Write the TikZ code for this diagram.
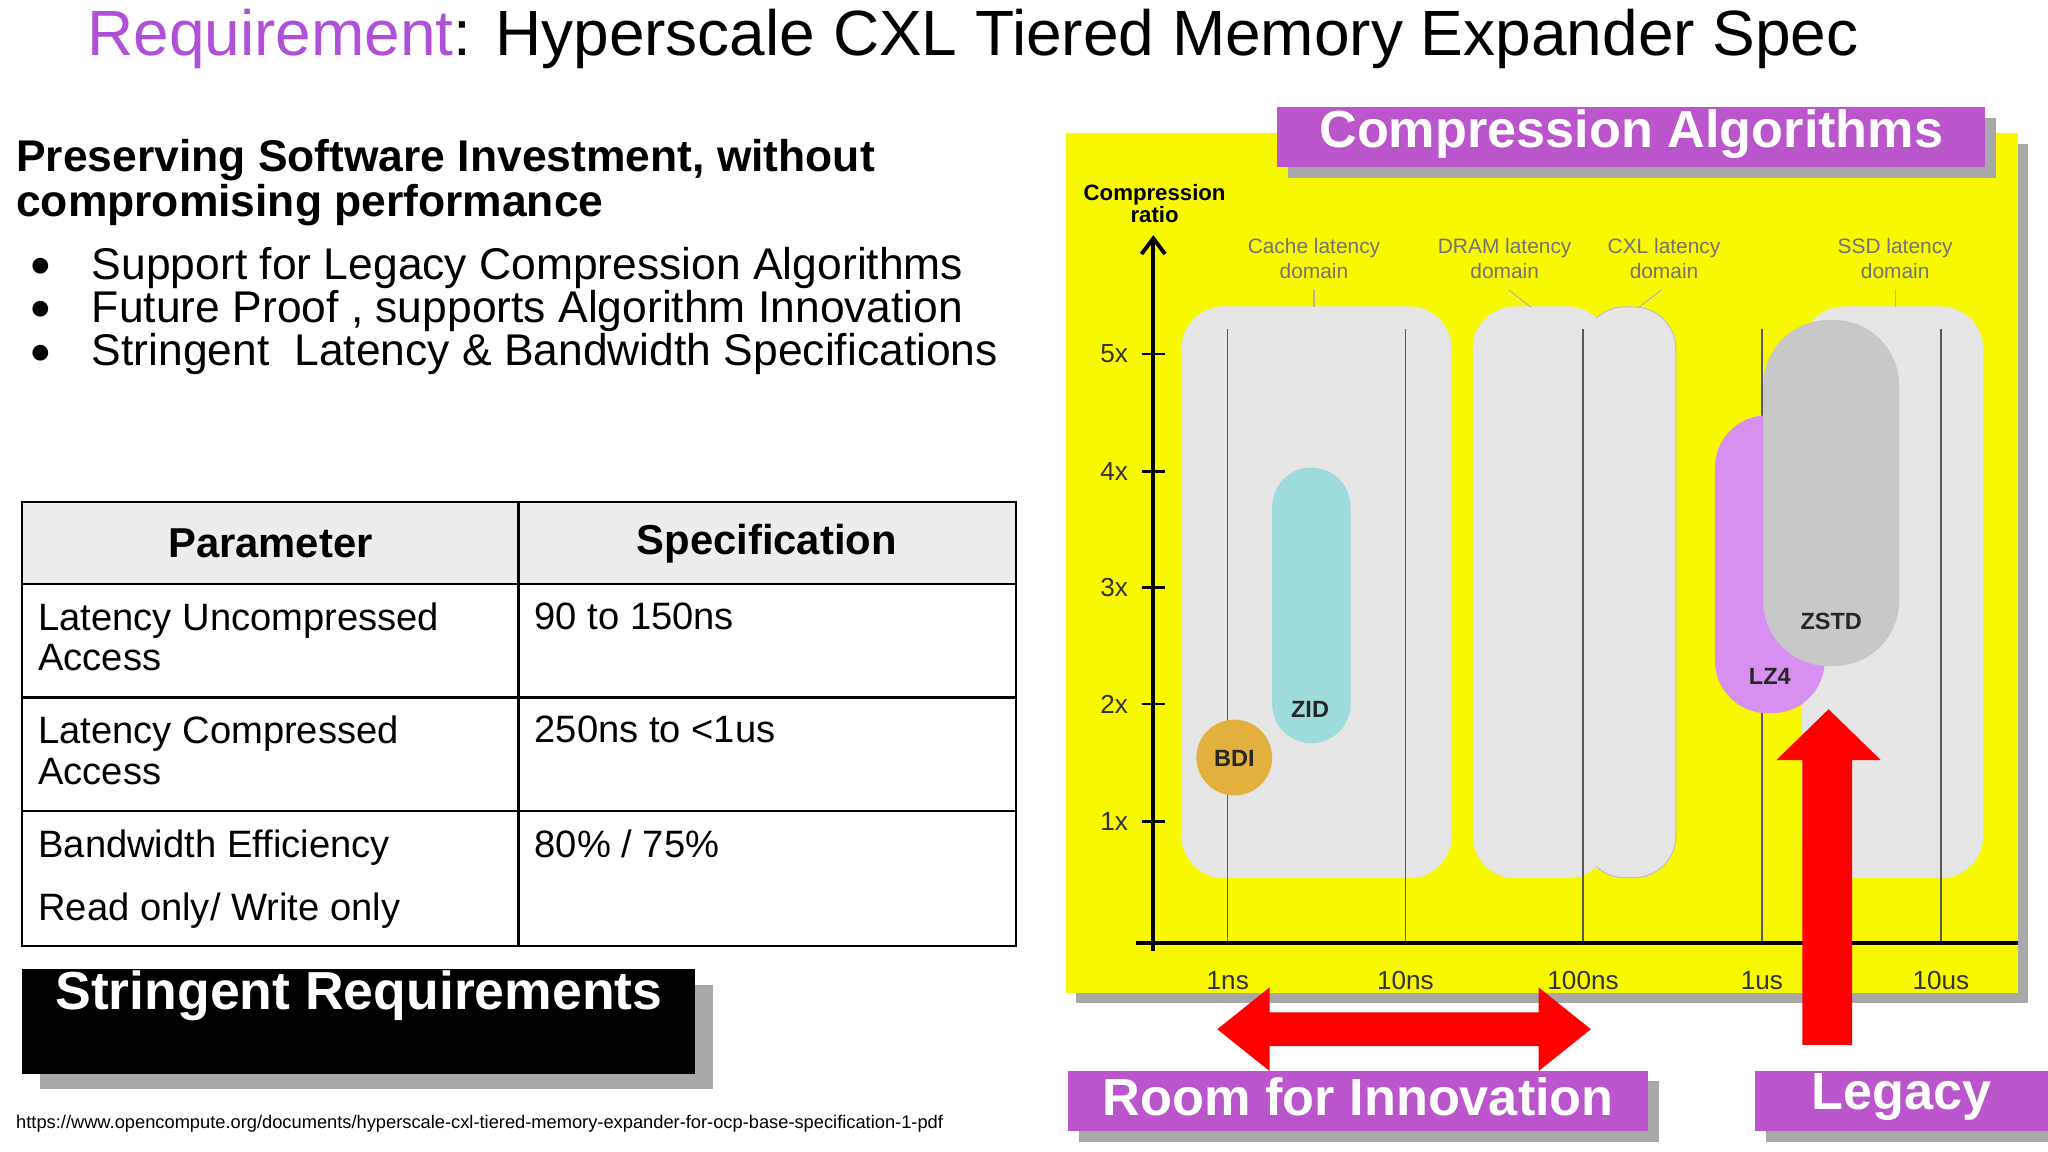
\documentclass[tikz,border=0pt]{standalone}
\usepackage{fontspec}
\setmainfont{Liberation Sans}
\usetikzlibrary{arrows.meta}
\definecolor{purp}{HTML}{BB55CC}
\definecolor{tpurp}{HTML}{B050D8}
\definecolor{ylw}{HTML}{F8F800}
\definecolor{shad}{HTML}{A8A8A8}
\definecolor{dom}{HTML}{E6E6E6}
\definecolor{zidc}{HTML}{9EDCDC}
\definecolor{bdic}{HTML}{E2B03C}
\definecolor{lzc}{HTML}{D890F0}
\definecolor{zsc}{HTML}{C8C8C8}
\newcommand{\fsz}[1]{\fontsize{#1}{1.2\dimexpr #1\relax}\selectfont}
\tikzset{
 lbl/.style={inner sep=0pt},
 purpbox/.style={fill=purp,inner sep=0pt,text=white,font=\fsz{20pt}\bfseries},
 shadowbox/.style={fill=shad},
 domainbox/.style={fill=dom,draw=white!80!gray,rounded corners=16pt},
 grid/.style={draw=gray!70!black,line width=0.5pt},
 tick/.style={font=\fsz{10pt},inner sep=0pt,text=black!80},
 domlbl/.style={font=\fsz{8pt},text=gray!90!black,align=center,inner sep=0pt},
 pilllbl/.style={font=\fsz{9pt}\bfseries,inner sep=0pt,text=black!85},
 cell/.style={font=\fsz{14.6pt},anchor=north west,inner sep=0pt,align=left},
}
\begin{document}
\begin{tikzpicture}[x=0.5pt,y=-0.5pt]
\useasboundingbox[fill=white] (0,0) rectangle (1568,882);
% title
\node[lbl] (title) at (745,30) {\fsz{24.5pt}\textcolor{tpurp}{Requirement}: Hyperscale CXL Tiered Memory Expander Spec};
% heading
\node[lbl,anchor=north west,align=left,font=\fsz{17pt}\bfseries] (head) at (12,106) {Preserving Software Investment, without\\[-3pt]compromising performance};
\foreach \y/\t [count=\i] in {205/Support for Legacy Compression Algorithms,238/{Future Proof , supports Algorithm Innovation},271/{Stringent\ \ Latency \& Bandwidth Specifications}}{
 \node[lbl,font=\fsz{14pt}] (dot\i) at (31,\y) {●};
 \node[lbl,anchor=west,font=\fsz{17pt}] (bul\i) at (70,\y) {\t};
}
% table
\fill[black!7] (17,384) rectangle (778,447);
\draw[line width=0.8pt] (17,384) rectangle (778,724);
\foreach \y in {447,534,621} \draw[line width=0.8pt] (17,\y) -- (778,\y);
\draw[line width=0.8pt] (397,384) -- (397,724);
\node[lbl,font=\fsz{16pt}\bfseries] (h1) at (207,416) {Parameter};
\node[lbl,font=\fsz{16pt}\bfseries] (h2) at (587,416) {Specification};
\node[cell] (c1) at (29,461) {Latency Uncompressed\\[-2pt]Access};
\node[cell] (c2) at (409,461) {90 to 150ns};
\node[cell] (c3) at (29,548) {Latency Compressed\\[-2pt]Access};
\node[cell] (c4) at (409,548) {250ns to <1us};
\node[cell] (c5) at (29,635) {Bandwidth Efficiency};
\node[cell] (c6) at (29,683) {Read only/ Write only};
\node[cell] (c7) at (409,635) {80\% / 75\%};
% stringent box
\fill[shad] (31,754) rectangle (546,834);
\fill[black] (17,742) rectangle (532,822);
\node[lbl,anchor=west,text=white,font=\fsz{20.5pt}\bfseries] (strin) at (42,762) {Stringent Requirements};
\node[lbl,anchor=west,font=\fsz{7pt}] (url) at (12,860) {https://www.opencompute.org/documents/hyperscale-cxl-tiered-memory-expander-for-ocp-base-specification-1-pdf};
% yellow panel
\fill[shad] (824,110) rectangle (1553,768);
\fill[ylw] (816,102) rectangle (1545,760);
% domain boxes
\draw[domainbox] (905,235) rectangle (1111,672);
\draw[domainbox,draw=gray!50] (1212,235) rectangle (1283,672);
\draw[domainbox] (1128,235) rectangle (1232,672);
\draw[domainbox] (1380,235) rectangle (1518,672);
% grid lines
\foreach \x in {940,1076,1212,1349,1486} \draw[grid] (\x,252) -- (\x,722);
% pills
\fill[lzc,rounded corners=20pt] (1313,318) rectangle (1397,546);
\fill[zsc,rounded corners=25pt] (1350,245) rectangle (1454,510);
\fill[zidc,rounded corners=15pt] (974,358) rectangle (1034,569);
\fill[bdic] (945,580) circle[radius=29];
\node[pilllbl] (zid) at (1003,543) {ZID};
\node[pilllbl] (bdi) at (945,581) {BDI};
\node[pilllbl] (lz4) at (1355,518) {LZ4};
\node[pilllbl] (zstd) at (1402,476) {ZSTD};
% axes
\coordinate (ytop) at (883,180);
\coordinate (ybot) at (883,728);
\coordinate (xl) at (870,722);
\coordinate (xr) at (1545,722);
\draw[line width=1.5pt,-{Straight Barb[length=6pt,width=9pt]}] (ybot) -- (ytop);
\draw[line width=1.5pt] (xl) -- (xr);
\foreach \y/\t in {271/5x,361/4x,450/3x,539/2x,629/1x}{
 \draw[line width=1pt] (874,\y) -- (892,\y);
 \node[tick] (yt\t) at (853,\y) {\t};
}
\foreach \x/\t in {940/1ns,1076/10ns,1212/100ns,1349/1us,1486/10us}
 \node[tick] (xt\t) at (\x,751) {\t};
\node[lbl,font=\fsz{8.5pt}\bfseries,align=center] (cr) at (884,156) {Compression\\[-2pt]ratio};
\node[domlbl] (d1) at (1006,198) {Cache latency\\domain};
\node[domlbl] (d2) at (1152,198) {DRAM latency\\domain};
\node[domlbl] (d3) at (1274,198) {CXL latency\\domain};
\node[domlbl] (d4) at (1451,198) {SSD latency\\domain};
\draw[gray!60] (1006,222) -- (1006,235);
\draw[gray!60] (1155,222) -- (1172,235);
\draw[gray!60] (1272,222) -- (1255,235);
\draw[gray!60] (1451,222) -- (1451,235);
% compression algorithms label
\fill[shad] (986,90) rectangle (1528,136);
\fill[purp] (978,82) rectangle (1520,128);
\node[purpbox] (ca) at (1249,103) {Compression Algorithms};
% red arrows
\fill[red] (932,788) -- (972,756) -- (972,775) -- (1178,775) -- (1178,756) -- (1218,788) -- (1178,820) -- (1178,801) -- (972,801) -- (972,820) -- cycle;
\fill[red] (1380,800) -- (1380,582) -- (1360,582) -- (1400,543) -- (1440,582) -- (1418,582) -- (1418,800) -- cycle;
% bottom labels
\fill[shad] (826,828) rectangle (1270,874);
\fill[purp] (818,820) rectangle (1262,866);
\node[purpbox] (room) at (1040,840) {Room for Innovation};
\fill[shad] (1352,828) rectangle (1576,874);
\fill[purp] (1344,820) rectangle (1568,866);
\node[purpbox] (leg) at (1456,840) {Legacy};
\end{tikzpicture}
\end{document}
